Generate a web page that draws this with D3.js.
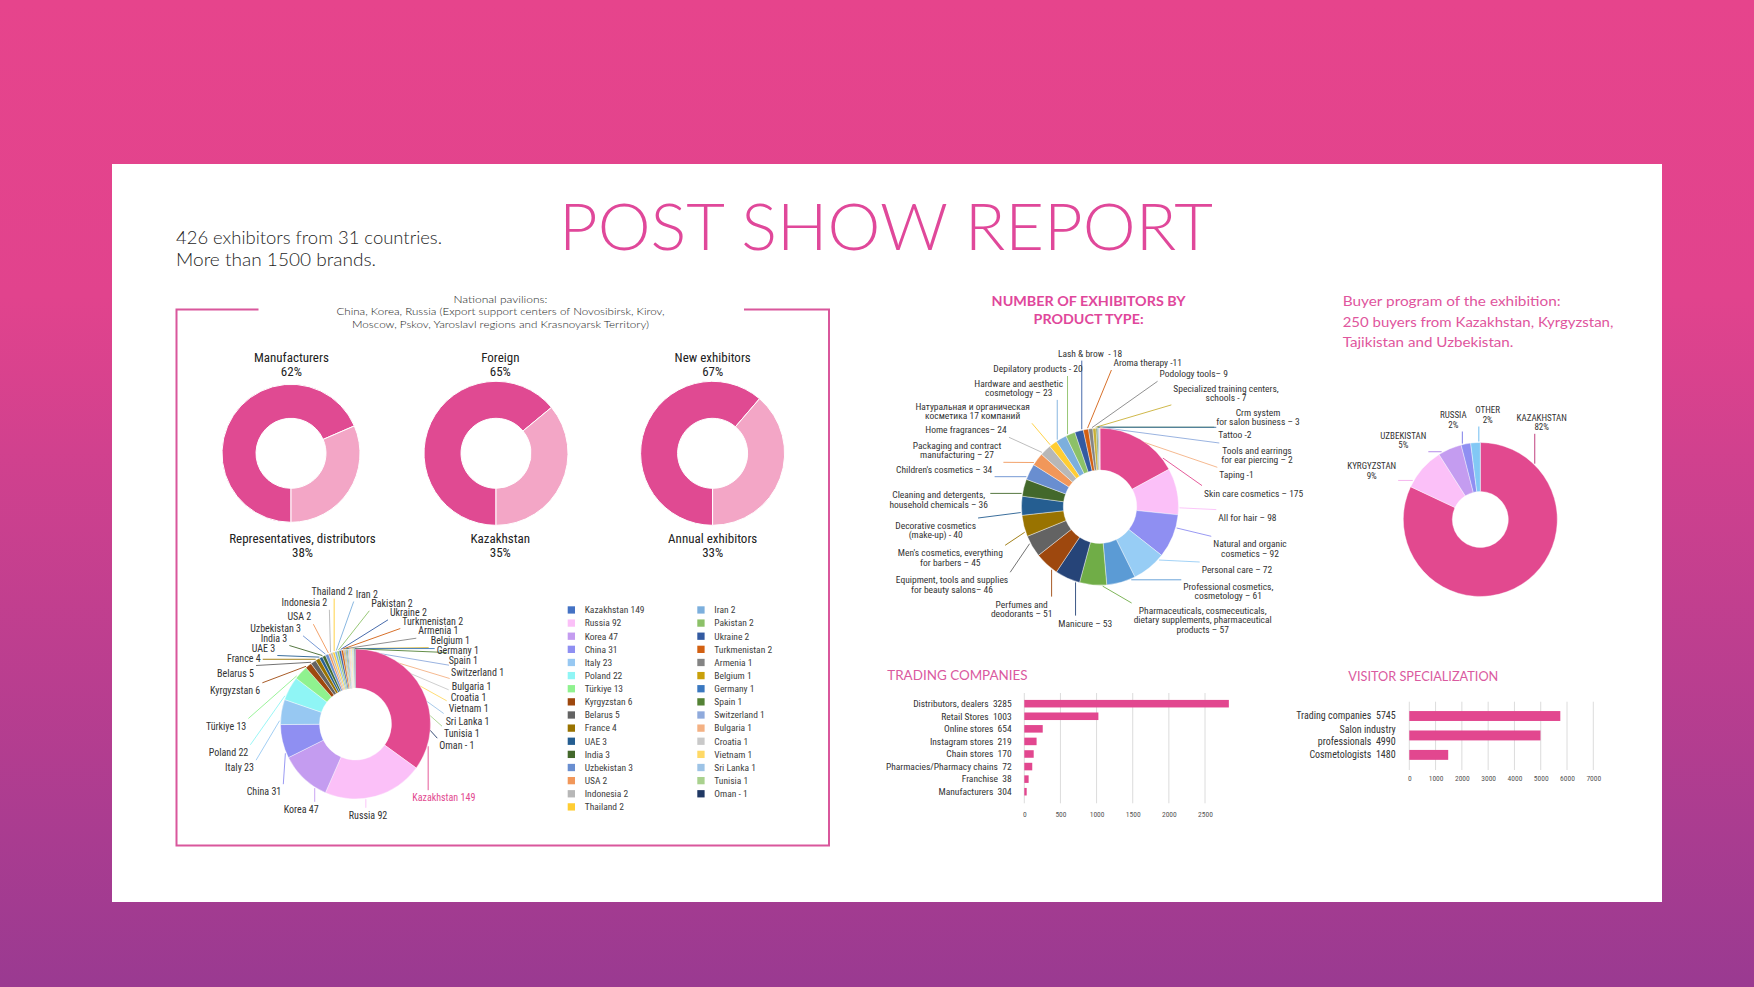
<!DOCTYPE html>
<html><head><meta charset="utf-8">
<script src="https://cdn.jsdelivr.net/npm/d3@7"></script>
<style>
body{margin:0;overflow:hidden;background:#fff}
svg{display:block}
</style>
</head><body>
<svg id="c" width="1754" height="987"></svg>
<script>
// ---------------- DATA ----------------
const headerLines = ["426 exhibitors from 31 countries.", "More than 1500 brands."];
const pavilionLines = ["National pavilions:",
  "China, Korea, Russia (Export support centers of Novosibirsk, Kirov,",
  "Moscow, Pskov, Yaroslavl regions and Krasnoyarsk Territory)"];

const ringTopLabels = ["Manufacturers", "Foreign", "New exhibitors"];
const ringTopPct = ["62%", "65%", "67%"];
const ringBottomLabels = ["Representatives, distributors", "Kazakhstan", "Annual exhibitors"];
const ringBottomPct = ["38%", "35%", "33%"];
const ringLightShare = [0.315, 0.36, 0.387]; // light segment share as drawn

const countries = ["Kazakhstan","Russia","Korea","China","Italy","Poland","Türkiye","Kyrgyzstan","Belarus","France","UAE","India","Uzbekistan","USA","Indonesia","Thailand","Iran","Pakistan","Ukraine","Turkmenistan","Armenia","Belgium","Germany","Spain","Switzerland","Bulgaria","Croatia","Vietnam","Sri Lanka","Tunisia","Oman"];
const countryValues = [149,92,47,31,23,22,13,6,5,4,3,3,3,2,2,2,2,2,2,2,1,1,1,1,1,1,1,1,1,1,1];
const countryColors = ["#4472c4","#fbc0f8","#c49cf0","#8f8ff2","#97c8f2","#8ff5f5","#8ff28f","#9e480e","#636363","#997300","#255e91","#43682b","#698ed0","#f1975a","#b7b7b7","#ffcd33","#7cafdd","#8cc168","#335aa1","#d26012","#848484","#c9a00a","#3a78c0","#548235","#8faadc","#f4b183","#c9c9c9","#ffd966","#9dc3e6","#a9d18e","#203864"];
const countryPieFirstColor = "#e2498f";

const productLabels = ["Skin care cosmetics – 175","All for hair – 98","Natural and organic\ncosmetics – 92","Personal care – 72","Professional cosmetics,\ncosmetology – 61","Pharmaceuticals, cosmeceuticals,\ndietary supplements, pharmaceutical\nproducts – 57","Manicure – 53","Perfumes and\ndeodorants – 51","Equipment, tools and supplies\nfor beauty salons– 46","Men's cosmetics, everything\nfor barbers – 45","Decorative cosmetics\n(make-up) - 40","Cleaning and detergents,\nhousehold chemicals – 36","Children's cosmetics – 34","Packaging and contract\nmanufacturing – 27","Home fragrances– 24","Натуральная и органическая\nкосметика 17 компаний","Hardware and aesthetic\ncosmetology – 23","Depilatory products - 20","Lash & brow\u00a0\u00a0- 18","Aroma therapy -11","Podology tools– 9","Specialized training centers,\nschools - 7","Crm system\nfor salon business – 3","Tattoo -2","Tools and earrings\nfor ear piercing – 2","Taping -1"];
const productValues = [175,98,92,72,61,57,53,51,46,45,40,36,34,27,24,17,23,20,18,11,9,7,3,2,2,1];
const productColors = ["#e2498f","#fbc0f8","#8f8ff2","#97cdf5","#5b9bd5","#70ad47","#264478","#9e480e","#636363","#997300","#255e91","#43682b","#698ed0","#f1975a","#b7b7b7","#ffcd33","#7cafdd","#8cc168","#335aa1","#d26012","#848484","#c9b037","#548235","#3a6ea8","#8faadc","#f4b183"];

const buyerCountries = ["KAZAKHSTAN","KYRGYZSTAN","UZBEKISTAN","RUSSIA","OTHER"];
const buyerPct = [82, 9, 5, 2, 2];
const buyerColors = ["#e2498f","#fbc0f8","#c49cf0","#8f8ff2","#82c8f5"];
const buyerLines = ["Buyer program of the exhibition:", "250 buyers from Kazakhstan, Kyrgyzstan,", "Tajikistan and Uzbekistan."];

const tradingCats = ["Distributors, dealers","Retail Stores","Online stores","Instagram stores","Chain stores","Pharmacies/Pharmacy chains","Franchise","Manufacturers"];
const tradingLabelValues = [3285,1003,654,219,170,72,38,304];
const tradingBarValues = [2830,1025,255,170,130,110,60,33]; // bar lengths as drawn
const tradingTicks = [0,500,1000,1500,2000,2500];

const visitorCats = ["Trading companies","Salon industry\nprofessionals","Cosmetologists"];
const visitorValues = [5745,4990,1480];
const visitorTicks = [0,1000,2000,3000,4000,5000,6000,7000];

// ---------------- STYLE ----------------
const COND = '"Liberation Sans Narrow","Roboto Condensed","DejaVu Sans Condensed","Arial Narrow",Roboto,sans-serif';
const GEO = 'Lato,"Open Sans",sans-serif';
const PINK = "#e04a92", LIGHTPINK = "#f3a6c6";
const GAP = "\u00a0\u00a0";

const svg = d3.select("#c");
const defs = svg.append("defs");
const grad = defs.append("linearGradient").attr("id","bg").attr("x1",0).attr("y1",0).attr("x2",0).attr("y2",1);
grad.append("stop").attr("offset","0").attr("stop-color","#e6448c");
grad.append("stop").attr("offset","0.3").attr("stop-color","#e1438d");
grad.append("stop").attr("offset","1").attr("stop-color","#9a3a91");
svg.append("rect").attr("width",1754).attr("height",987).attr("fill","url(#bg)");
svg.append("rect").attr("x",112).attr("y",164).attr("width",1550).attr("height",738).attr("fill","#fff");

function mlText(g, lines, x, y, anchor, lh) {
  const t = g.append("text").attr("x",x).attr("y",y).attr("text-anchor",anchor);
  lines.forEach((l,i)=> t.append("tspan").attr("x",x).attr("dy", i ? lh : 0).text(l));
  return t;
}

function leaders(g, cx, cy, R, arcs, nodes, colors, width) {
  arcs.forEach((a,i) => {
    const bb = nodes[i].getBBox();
    const lx = bb.x + bb.width/2, ly = bb.y + bb.height/2;
    let ang = Math.atan2(lx - cx, -(ly - cy));
    const mid = (a.startAngle + a.endAngle)/2;
    while (ang - mid > Math.PI) ang -= 2*Math.PI;
    while (mid - ang > Math.PI) ang += 2*Math.PI;
    const span = a.endAngle - a.startAngle, m = span*0.15;
    ang = Math.max(a.startAngle + m, Math.min(a.endAngle - m, ang));
    const sx = cx + (R+1)*Math.sin(ang), sy = cy - (R+1)*Math.cos(ang);
    const pad = 2;
    const ex = Math.max(bb.x - pad, Math.min(bb.x + bb.width + pad, sx));
    const ey = Math.max(bb.y - pad, Math.min(bb.y + bb.height + pad, sy));
    g.append("line").attr("x1",sx).attr("y1",sy).attr("x2",ex).attr("y2",ey)
      .attr("stroke",colors[i]).attr("stroke-width",width);
  });
}

// ---------------- HEADER ----------------
const hdr = svg.append("g").attr("font-family",GEO).attr("font-weight",300).attr("fill","#1e1e1e").attr("font-size",17.5);
hdr.append("text").attr("x",176).attr("y",243.5).attr("textLength",266).attr("lengthAdjust","spacingAndGlyphs").text(headerLines[0]);
hdr.append("text").attr("x",176).attr("y",266).attr("textLength",200).attr("lengthAdjust","spacingAndGlyphs").text(headerLines[1]);
svg.append("text").attr("x",559).attr("y",250).attr("font-family",GEO).attr("font-weight",300)
  .attr("font-size",66).attr("fill","#e0489a").attr("textLength",654).attr("lengthAdjust","spacingAndGlyphs")
  .text("POST SHOW REPORT");

// ---------------- PAVILION BOX ----------------
svg.append("path").attr("d","M258.5,309.5H176.5V845.5H829V309.5H744")
  .attr("fill","none").attr("stroke","#d9579c").attr("stroke-width",2);
const pav = svg.append("g").attr("font-family",GEO).attr("font-weight",300).attr("font-size",10.5).attr("fill","#1a1a1a").attr("text-anchor","middle");
const pavW = [94, 328, 297], pavY = [302.5, 314.5, 328];
pavilionLines.forEach((l,i)=> pav.append("text").attr("x",500.5).attr("y",pavY[i]).attr("textLength",pavW[i]).attr("lengthAdjust","spacingAndGlyphs").text(l));

// ---------------- THREE RINGS ----------------
const ringCx = [291, 496, 712.6], ringR = [69, 72, 72];
const ringTopX = [291.4, 500.3, 712.7], ringBotX = [302.5, 500.3, 712.7];
const rings = svg.append("g");
ringLightShare.forEach((s,i) => {
  const pie = d3.pie().sort(null).startAngle(Math.PI).endAngle(3*Math.PI);
  const arc = d3.arc().innerRadius(35).outerRadius(ringR[i]);
  const g = rings.append("g").attr("transform",`translate(${ringCx[i]},453.3)`);
  g.selectAll("path").data(pie([1-s, s])).join("path").attr("d",arc)
    .attr("fill",(d,j)=> j ? LIGHTPINK : PINK).attr("stroke","#fff").attr("stroke-width",1);
  const t = rings.append("g").attr("font-family",COND).attr("font-size",13).attr("fill","#222").attr("text-anchor","middle");
  t.append("text").attr("x",ringTopX[i]).attr("y",362).text(ringTopLabels[i]);
  t.append("text").attr("x",ringTopX[i]).attr("y",375.5).text(ringTopPct[i]);
  t.append("text").attr("x",ringBotX[i]).attr("y",543).text(ringBottomLabels[i]);
  t.append("text").attr("x",ringBotX[i]).attr("y",556.5).text(ringBottomPct[i]);
});

// ---------------- COUNTRY DONUT ----------------
const cCx = 355.5, cCy = 724, cR = 75, cr = 36;
const countryLabelLayout = [[412.3,797.7,"start"],[368,815.3,"middle"],[318.7,809.3,"end"],[281.3,791.7,"end"],[254,767.7,"end"],[248.3,752.3,"end"],[246.3,726,"end"],[260.3,690.3,"end"],[254,673,"end"],[260.7,658.7,"end"],[275.3,648,"end"],[287.3,638,"end"],[301,628.3,"end"],[311.3,616.7,"end"],[327.3,602.3,"end"],[352.7,591,"end"],[355.7,594,"start"],[371.3,603.3,"start"],[390,612.3,"start"],[402.3,621,"start"],[418.3,630.7,"start"],[430.7,640.3,"start"],[436.7,650,"start"],[448.7,660,"start"],[451,672.7,"start"],[451.7,686,"start"],[450.7,697.3,"start"],[448.7,708.3,"start"],[445.7,721,"start"],[444,733.7,"start"],[439.3,745.7,"start"]];
const countryText = countries.map((c,i)=> c + (c === "Oman" ? " - " : " ") + countryValues[i]);
const sliceColors = countryColors.map((c,i)=> i === 0 ? countryPieFirstColor : c);
const cg = svg.append("g");
const cPie = d3.pie().sort(null)(countryValues);
const cArc = d3.arc().innerRadius(cr).outerRadius(cR);
const cLines = cg.append("g");
cg.append("g").attr("transform",`translate(${cCx},${cCy})`).selectAll("path").data(cPie).join("path")
  .attr("d",cArc).attr("fill",(d,i)=>sliceColors[i]).attr("stroke","#fff").attr("stroke-width",0.4);
const cLabels = cg.append("g").attr("font-family",COND).attr("font-size",10).attr("fill","#333");
const cNodes = countryText.map((t,i)=> cLabels.append("text").attr("x",countryLabelLayout[i][0]).attr("y",countryLabelLayout[i][1]+3.5)
  .attr("text-anchor",countryLabelLayout[i][2]).attr("fill", i === 0 ? countryPieFirstColor : "#333").text(t).node());
leaders(cLines, cCx, cCy, cR, cPie, cNodes, sliceColors, 0.9);

// legend
const lg = svg.append("g").attr("font-family",COND).attr("font-size",9.5).attr("fill","#404040");
countries.forEach((c,i)=>{
  const col = i < 16 ? 0 : 1, row = i < 16 ? i : i - 16;
  const x = col ? 697.3 : 567.7, y = 610 + row*13.13;
  lg.append("rect").attr("x",x).attr("y",y-3.7).attr("width",7.3).attr("height",7.3).attr("fill",countryColors[i]);
  lg.append("text").attr("x",x+17).attr("y",y+3.3).text(countryText[i]);
});

// ---------------- PRODUCT DONUT ----------------
const pg = svg.append("g");
mlText(pg.append("g").attr("font-family",GEO).attr("font-weight",700).attr("font-size",13).attr("fill","#e0479b"),
  ["NUMBER OF EXHIBITORS BY","PRODUCT TYPE:"], 1088.6, 305.5, "middle", 18.6)
  .selectAll("tspan").attr("textLength",(d,i)=> i ? 110 : 194).attr("lengthAdjust","spacingAndGlyphs");
const pCx = 1100, pCy = 506.7, pR = 78.5, pr = 36.7;
const productLabelLayout = [[1204,493.3,"start"],[1218.3,517.3,"start"],[1250,544,"middle"],[1201.7,569.7,"start"],[1228.3,586.7,"middle"],[1202.7,610.7,"middle"],[1085.3,623.3,"middle"],[1021.7,604.3,"middle"],[952,580,"middle"],[950.3,553,"middle"],[935.7,525.7,"middle"],[938.7,495,"middle"],[992.3,470,"end"],[957,445.7,"middle"],[1006.7,430,"end"],[972.7,406.7,"middle"],[1018.7,383.3,"middle"],[1038,368.7,"middle"],[1090,353.3,"middle"],[1147.7,362.7,"middle"],[1193.7,374,"middle"],[1226,388.3,"middle"],[1258,412.3,"middle"],[1218.3,435,"start"],[1257,450.7,"middle"],[1219.3,475,"start"]];
const pPie = d3.pie().sort(null)(productValues);
const pArc = d3.arc().innerRadius(pr).outerRadius(pR);
const pLines = pg.append("g");
pg.append("g").attr("transform",`translate(${pCx},${pCy})`).selectAll("path").data(pPie).join("path")
  .attr("d",pArc).attr("fill",(d,i)=>productColors[i]).attr("stroke","#fff").attr("stroke-width",0.4);
const pLab = pg.append("g").attr("font-family",COND).attr("font-size",9.5).attr("fill","#333");
const pNodes = productLabels.map((t,i)=> mlText(pLab, t.split("\n"), productLabelLayout[i][0], productLabelLayout[i][1]+3.3, productLabelLayout[i][2], 9.3).node());
leaders(pLines, pCx, pCy, pR, pPie, pNodes, productColors, 0.9);

// ---------------- BUYER DONUT ----------------
const bg = svg.append("g");
const bt = bg.append("g").attr("font-family",GEO).attr("font-weight",400).attr("font-size",14).attr("fill","#e0559d");
const bW = [218, 270.7, 170.7], bY = [305.5, 326.5, 346.5];
buyerLines.forEach((l,i)=> bt.append("text").attr("x",1342.7).attr("y",bY[i]).attr("textLength",bW[i]).attr("lengthAdjust","spacingAndGlyphs").text(l));
const bCx = 1480.3, bCy = 519.5, bR = 77, br = 28;
const buyerLabelLayout = [[1541.7,417.3],[1371.7,466],[1403.3,435.7],[1453.3,415],[1487.7,410]];
const bPie = d3.pie().sort(null)(buyerPct);
const bArc = d3.arc().innerRadius(br).outerRadius(bR);
const bLines = bg.append("g");
bg.append("g").attr("transform",`translate(${bCx},${bCy})`).selectAll("path").data(bPie).join("path")
  .attr("d",bArc).attr("fill",(d,i)=>buyerColors[i]).attr("stroke","#fff").attr("stroke-width",0.4);
const bLab = bg.append("g").attr("font-family",COND).attr("font-size",9).attr("fill","#333");
const bNodes = buyerCountries.map((c,i)=> mlText(bLab, [c, buyerPct[i]+"%"], buyerLabelLayout[i][0], buyerLabelLayout[i][1]+3.2, "middle", 9.3).node());
const buyerLineColors = ["#c0407f","#f6b6ee","#b58be8","#7f7fe8","#6fbdf0"];
leaders(bLines, bCx, bCy, bR, bPie, bNodes, buyerLineColors, 1);

// ---------------- TRADING COMPANIES ----------------
const tg = svg.append("g");
tg.append("text").attr("x",887.3).attr("y",680).attr("font-family",GEO).attr("font-weight",400).attr("font-size",13).attr("fill","#da5aa0")
  .attr("textLength",140.3).attr("lengthAdjust","spacingAndGlyphs").text("TRADING COMPANIES");
const tx = d3.scaleLinear().domain([0,2500]).range([1024.3,1205]);
const ty = d3.scaleBand().domain(tradingCats).range([697.4,798]).paddingInner(0.4).paddingOuter(0.2);
tg.append("g").selectAll("line").data(tradingTicks).join("line")
  .attr("x1",d=>tx(d)).attr("x2",d=>tx(d)).attr("y1",693).attr("y2",803.3).attr("stroke","#dcdcdc").attr("stroke-width",1);
tg.append("g").selectAll("rect").data(tradingCats).join("rect")
  .attr("x",tx(0)).attr("y",d=>ty(d)).attr("height",ty.bandwidth()).attr("width",(d,i)=>tx(tradingBarValues[i])-tx(0)).attr("fill","#e2478f");
tg.append("g").attr("font-family",COND).attr("font-size",9.5).attr("fill","#333").attr("text-anchor","end")
  .selectAll("text").data(tradingCats).join("text")
  .attr("x",1011.7).attr("y",d=>ty(d)+ty.bandwidth()/2+3.3).text((d,i)=> d + GAP + tradingLabelValues[i]);
const tAxis = tg.append("g").attr("transform","translate(0,803.3)")
  .call(d3.axisBottom(tx).tickValues(tradingTicks).tickSize(0).tickPadding(8.4).tickFormat(d3.format("d")));
tAxis.select(".domain").remove();
tAxis.selectAll("text").attr("font-family",COND).attr("font-size",7.5).attr("fill","#555");

// ---------------- VISITOR SPECIALIZATION ----------------
const vg = svg.append("g");
vg.append("text").attr("x",1348.3).attr("y",681).attr("font-family",GEO).attr("font-weight",400).attr("font-size",13).attr("fill","#da5aa0")
  .attr("textLength",150).attr("lengthAdjust","spacingAndGlyphs").text("VISITOR SPECIALIZATION");
const vx = d3.scaleLinear().domain([0,7000]).range([1409.3,1593.3]);
const vy = d3.scaleBand().domain(visitorCats).range([706.2,764.7]).paddingInner(0.49).paddingOuter(0.25);
vg.append("g").selectAll("line").data(visitorTicks).join("line")
  .attr("x1",d=>vx(d)).attr("x2",d=>vx(d)).attr("y1",701.7).attr("y2",770).attr("stroke","#dcdcdc").attr("stroke-width",1);
vg.append("g").selectAll("rect").data(visitorCats).join("rect")
  .attr("x",vx(0)).attr("y",d=>vy(d)).attr("height",vy.bandwidth()).attr("width",(d,i)=>vx(visitorValues[i])-vx(0)).attr("fill","#e2478f");
const vLab = vg.append("g").attr("font-family",COND).attr("font-size",10).attr("fill","#333");
visitorCats.forEach((c,i)=>{
  const lines = c.split("\n");
  lines[lines.length-1] += GAP + visitorValues[i];
  const cy = vy(c) + vy.bandwidth()/2;
  mlText(vLab, lines, 1395.7, cy - (lines.length-1)*6.2 + 3.4, "end", 12.4);
});
const vAxis = vg.append("g").attr("transform","translate(0,770)")
  .call(d3.axisBottom(vx).tickValues(visitorTicks).tickSize(0).tickPadding(5.7).tickFormat(d3.format("d")));
vAxis.select(".domain").remove();
vAxis.selectAll("text").attr("font-family",COND).attr("font-size",7.5).attr("fill","#555");
</script>
</body></html>
